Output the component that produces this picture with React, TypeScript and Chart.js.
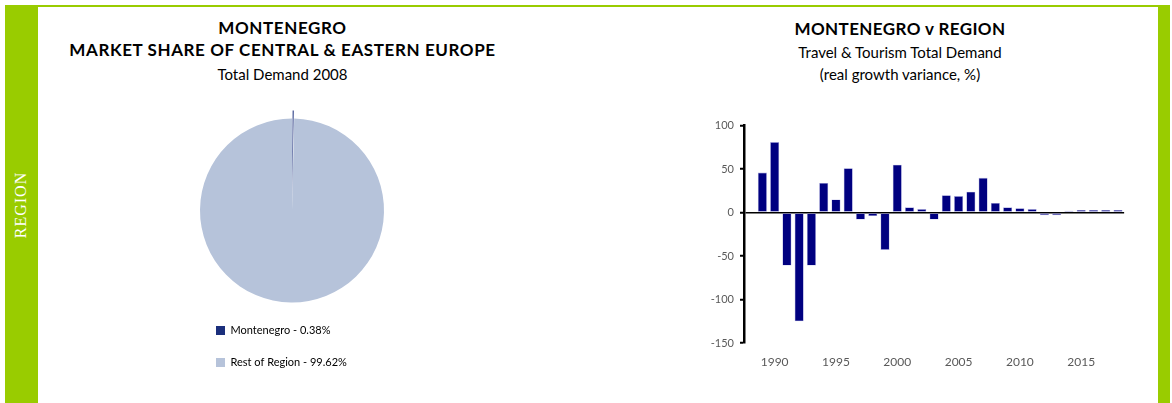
import React, { useEffect, useRef } from 'react';
import { Chart, registerables } from 'chart.js';

Chart.register(...registerables);

// ---- Data ----
const pieLabels = ['Montenegro - 0.38%', 'Rest of Region - 99.62%'];
const pieValues = [0.38, 99.62];
const pieColors = ['#1b2f7c', '#b6c3da'];

const years = [
  1988, 1989, 1990, 1991, 1992, 1993, 1994, 1995, 1996, 1997, 1998,
  1999, 2000, 2001, 2002, 2003, 2004, 2005, 2006, 2007, 2008, 2009,
  2010, 2011, 2012, 2013, 2014, 2015, 2016, 2017, 2018,
];
const variance: (number | null)[] = [
  null, 46, 81, -61, -125, -61, 34, 15, 51, -8, -4,
  -43, 55, 6, 4, -8, 20, 19, 24, 40, 11, 6,
  5, 4, -3, -3, 2, 3, 3, 3, 3,
];
const yMin = -150;
const yMax = 100;
const yStep = 50;
const labelEvery = 5;

const FONT = 'Lato, "Open Sans", sans-serif';
const GREEN = '#99cc00';

function PieChart() {
  const ref = useRef<HTMLCanvasElement>(null);
  useEffect(() => {
    if (!ref.current) return;
    const chart = new Chart(ref.current, {
      type: 'pie',
      data: {
        labels: pieLabels,
        datasets: [
          {
            data: pieValues,
            backgroundColor: pieColors,
            borderWidth: 0,
            offset: [16, 0],
            radius: 92,
          } as any,
        ],
      },
      options: {
        animation: false,
        responsive: false,
        events: [],
        layout: { padding: { top: 21, left: 0, right: 0, bottom: 0 } },
        plugins: {
          tooltip: { enabled: false },
          legend: {
            position: 'bottom',
            align: 'start',
            labels: {
              boxWidth: 9,
              boxHeight: 9,
              padding: 21,
              color: '#000',
              font: { family: FONT, size: 11 },
            },
          },
        },
      },
    });
    return () => chart.destroy();
  }, []);
  return (
    <canvas
      ref={ref}
      width={194}
      height={282}
      style={{ position: 'absolute', left: 195, top: 96, width: 194, height: 282 }}
    />
  );
}

function BarChart() {
  const ref = useRef<HTMLCanvasElement>(null);
  useEffect(() => {
    if (!ref.current) return;
    const chart = new Chart(ref.current, {
      type: 'bar',
      data: {
        labels: years.map(String),
        datasets: [
          {
            data: variance,
            backgroundColor: '#000080',
            borderColor: 'rgba(110,110,200,0.6)',
            borderWidth: 0.6,
            borderSkipped: false,
            barPercentage: 0.74,
            categoryPercentage: 1,
          } as any,
        ],
      },
      options: {
        animation: false,
        responsive: false,
        events: [],
        layout: { padding: { top: 7, left: 0, right: 0, bottom: 0 } },
        plugins: { legend: { display: false }, tooltip: { enabled: false } },
        scales: {
          x: {
            grid: { display: false, drawTicks: false },
            border: { display: false },
            ticks: {
              autoSkip: false,
              maxRotation: 0,
              minRotation: 0,
              padding: 12,
              color: '#595959',
              font: { family: FONT, size: 12 },
              callback: (_v: any, i: number) =>
                years[i] % labelEvery === 0 ? String(years[i]) : '',
            },
            afterFit: (s: any) => {
              s.height = 30;
            },
          },
          y: {
            min: yMin,
            max: yMax,
            ticks: {
              stepSize: yStep,
              padding: 6,
              color: '#595959',
              font: { family: FONT, size: 11 },
            },
            grid: {
              color: (c: any) => (c.tick && c.tick.value === 0 ? '#000' : 'rgba(0,0,0,0)'),
              lineWidth: 1.5,
              tickColor: '#000',
              tickLength: 4,
              tickWidth: 2,
            },
            border: { display: true, color: '#000', width: 2.5 },
            afterFit: (s: any) => {
              s.width = 44;
            },
          },
        },
      } as any,
    });
    return () => chart.destroy();
  }, []);
  return (
    <canvas
      ref={ref}
      width={430}
      height={260}
      style={{ position: 'absolute', left: 700, top: 113, width: 430, height: 260 }}
    />
  );
}

function Line({
  text, cx, top, bold, size = 15, spacing = 0,
}: { text: string; cx: number; top: number; bold?: boolean; size?: number; spacing?: number }) {
  return (
    <div
      style={{
        position: 'absolute',
        left: cx - 300,
        width: 600,
        top,
        textAlign: 'center',
        fontFamily: FONT,
        fontSize: size,
        lineHeight: '20px',
        fontWeight: bold ? 700 : 400,
        letterSpacing: spacing,
        color: '#000',
        whiteSpace: 'nowrap',
      }}
    >
      {text}
    </div>
  );
}

export default function App() {
  return (
    <div
      style={{
        position: 'fixed',
        left: 0,
        top: 0,
        width: 1172,
        height: 403,
        background: '#fff',
        overflow: 'hidden',
      }}
    >
      <div style={{ position: 'absolute', left: 5, top: 5, width: 1161, height: 2, background: GREEN }} />
      <div style={{ position: 'absolute', left: 5, top: 5, width: 33, height: 398, background: GREEN }} />
      <div style={{ position: 'absolute', left: 1158, top: 5, width: 12, height: 398, background: GREEN }} />
      <div
        style={{
          position: 'absolute',
          left: 21 - 50,
          top: 204.5 - 10,
          width: 100,
          height: 20,
          lineHeight: '20px',
          textAlign: 'center',
          color: '#fff',
          fontFamily: '"Liberation Serif", "Times New Roman", serif',
          fontSize: 16,
          letterSpacing: 1,
          transform: 'rotate(-90deg)',
          whiteSpace: 'nowrap',
        }}
      >
        REGION
      </div>

      <Line text="MONTENEGRO" cx={282.5} top={18} bold size={17} spacing={0.6} />
      <Line text="MARKET SHARE OF CENTRAL & EASTERN EUROPE" cx={282.5} top={40} bold size={17} spacing={0.6} />
      <Line text="Total Demand 2008" cx={282.5} top={64} />

      <Line text="MONTENEGRO v REGION" cx={900} top={19} bold size={17} spacing={0.4} />
      <Line text="Travel & Tourism Total Demand" cx={900} top={41.5} />
      <Line text="(real growth variance, %)" cx={900} top={64} />

      <PieChart />
      <BarChart />
    </div>
  );
}
